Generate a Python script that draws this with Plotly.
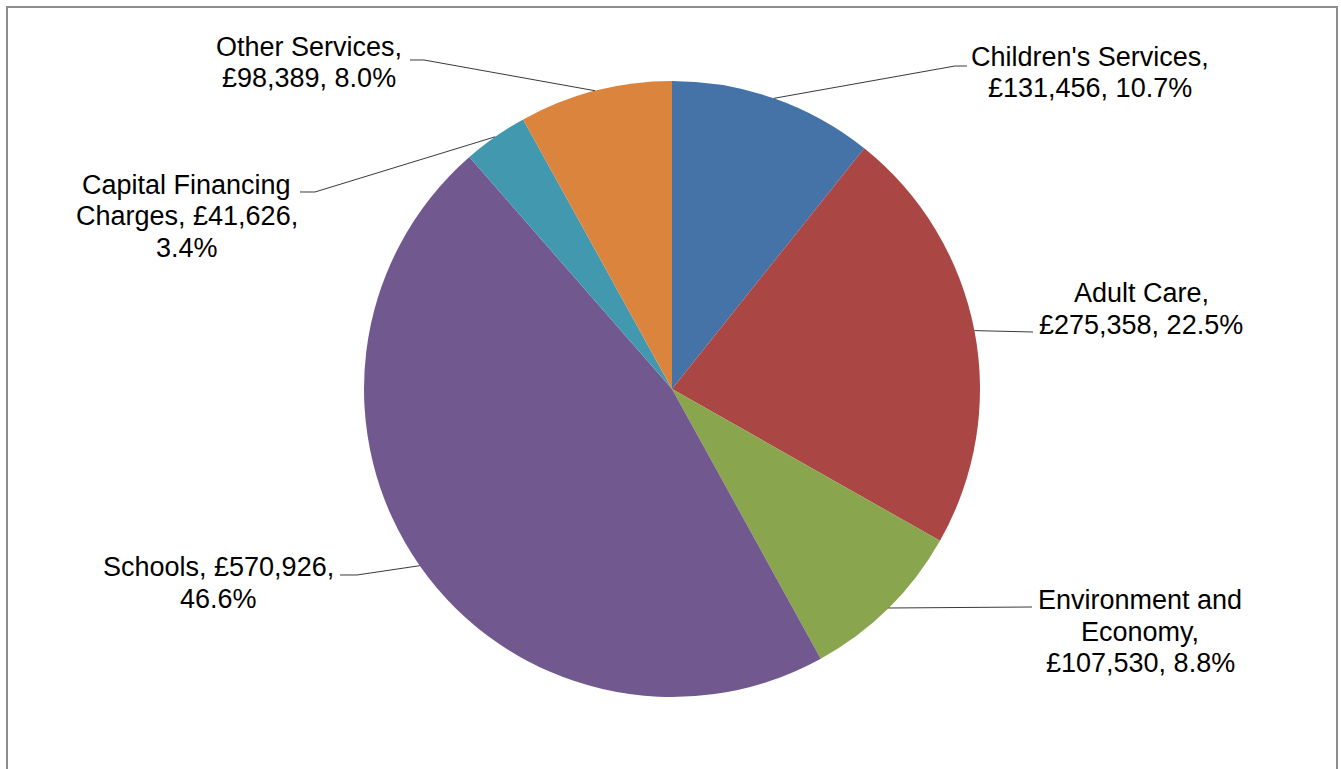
import math
import plotly.graph_objects as go

# ---- data ----
categories = ["Children's Services", "Adult Care", "Environment and Economy",
              "Schools", "Capital Financing Charges", "Other Services"]
values = [131456, 275358, 107530, 570926, 41626, 98389]
colors = ["#4572A7", "#AA4643", "#89A54E", "#71588F", "#4198AF", "#DB843D"]

# ---- layout constants (pixels) ----
W, H = 1341, 769
CX, CY, R = 672, 389, 308
FONT = "Liberation Sans, Arial, sans-serif"
FS = 27
LINE_H = 31.5

# label templates (line structure), label centre x, first line centre y
label_fmt = {
    "Children's Services": (["{n},", "{v}, {p}"], 1090, 57),
    "Adult Care": (["{n},", "{v}, {p}"], 1141, 293),
    "Environment and Economy": (["Environment and", "Economy,", "{v}, {p}"], 1140, 600),
    "Schools": (["{n}, {v},", "{p}"], 218, 567),
    "Capital Financing Charges": (["Capital Financing", "Charges, {v},", "{p}"], 187, 185),
    "Other Services": (["{n},", "{v}, {p}"], 309, 47),
}
# leader line points after the pie-edge start (pixels)
leader_pts = {
    "Children's Services": [(955, 66), (967, 66)],
    "Adult Care": [(1033, 332)],
    "Environment and Economy": [(1032, 607)],
    "Schools": [(357, 575), (340, 575)],
    "Capital Financing Charges": [(315, 192), (300, 192)],
    "Other Services": [(424, 60), (410, 60)],
}


def px(x):
    return x / W


def py(y):
    return 1 - y / H


fig = go.Figure(go.Pie(
    labels=categories, values=values, sort=False, direction="clockwise",
    rotation=0, marker=dict(colors=colors, line=dict(width=0)),
    textinfo="none", hoverinfo="label+value+percent", showlegend=False,
    domain=dict(x=[px(CX - R), px(CX + R)], y=[py(CY + R), py(CY - R)]),
))

total = sum(values)
cum = 0
shapes = []
annotations = []
for name, v in zip(categories, values):
    mid = (cum + v / 2) / total * 2 * math.pi
    cum += v
    sx = CX + R * math.sin(mid)
    sy = CY - R * math.cos(mid)
    pts = [(sx, sy)] + leader_pts[name]
    path = "M " + " L ".join(f"{px(x):.5f},{py(y):.5f}" for x, y in pts)
    shapes.append(dict(type="path", path=path, xref="paper", yref="paper",
                       line=dict(color="#3a3a3a", width=1)))
    tmpl, lx, ly = label_fmt[name]
    vs = f"£{v:,}"
    ps = f"{v / total * 100:.1f}%"
    for i, t in enumerate(tmpl):
        annotations.append(dict(
            text=t.format(n=name, v=vs, p=ps), x=px(lx), y=py(ly + i * LINE_H),
            xref="paper", yref="paper", xanchor="center", yanchor="middle",
            showarrow=False, font=dict(family=FONT, size=FS, color="#000000")))

# chart frame
shapes.append(dict(type="rect", xref="paper", yref="paper",
                   x0=px(7), x1=px(1337), y0=py(790), y1=py(7),
                   line=dict(color="#8c8c8c", width=2)))

fig.update_layout(
    width=W, height=H, margin=dict(l=0, r=0, t=0, b=0),
    paper_bgcolor="white", plot_bgcolor="white",
    shapes=shapes, annotations=annotations,
)

fig.write_html("out.html")
